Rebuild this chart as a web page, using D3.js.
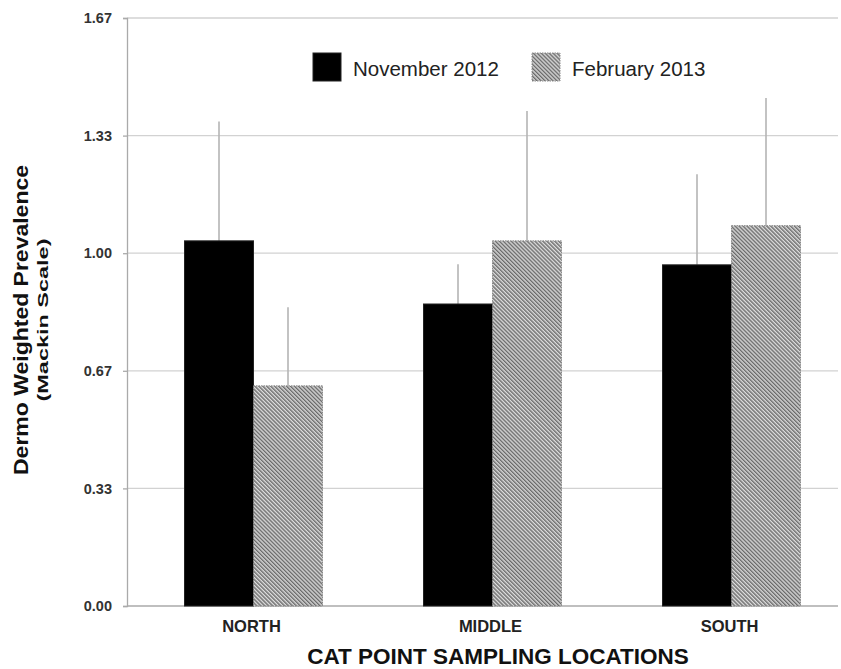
<!DOCTYPE html>
<html><head><meta charset="utf-8">
<script src="https://cdn.jsdelivr.net/npm/d3@7"></script>
<style>body{margin:0;background:#fff}svg{display:block}</style>
</head><body>
<svg id="c" width="841" height="669"></svg>
<script>
const categories = ["NORTH", "MIDDLE", "SOUTH"];
const seriesNames = ["November 2012", "February 2013"];
const nov2012 = [1.035, 0.856, 0.967];
const feb2013 = [0.624, 1.035, 1.078];
const nov2012Err = [0.338, 0.113, 0.257];
const feb2013Err = [0.223, 0.368, 0.362];
const yTicks = [0, 1/3, 2/3, 1, 4/3, 5/3];
const yTickLabels = ["0.00", "0.33", "0.67", "1.00", "1.33", "1.67"];

(function(){
const svg = d3.select("#c");
const FF = "Liberation Sans, Arial, sans-serif";
const axisX = 127, rightX = 838, topY = 18, bottomY = 606;
const y = d3.scaleLinear().domain([0, 5/3]).range([bottomY, topY]);
const x0 = d3.scaleBand().domain(categories).range([134, 851]).paddingInner(0.4226).paddingOuter(0.2113);
const x1 = d3.scaleBand().domain(seriesNames).range([0, x0.bandwidth()]);

const defs = svg.append("defs");
const pat = defs.append("pattern").attr("id","hatch").attr("patternUnits","userSpaceOnUse")
  .attr("width",2.8).attr("height",2.8).attr("patternTransform","rotate(-45)");
pat.append("rect").attr("width",2.8).attr("height",2.8).attr("fill","#dcdcdc");
pat.append("rect").attr("x",0).attr("width",1.4).attr("height",2.8).attr("fill","#6a6a6a");

svg.append("g").selectAll("line").data(yTicks.slice(1)).join("line")
  .attr("x1", axisX).attr("x2", rightX).attr("y1", d=>y(d)).attr("y2", d=>y(d))
  .attr("stroke","#d2d2d2").attr("stroke-width",1.3);

const yAxis = d3.axisLeft(y).tickValues(yTicks).tickFormat((d,i)=>yTickLabels[i]).tickSize(4).tickPadding(11);
const ga = svg.append("g").attr("transform",`translate(${axisX},0)`).call(yAxis);
ga.select(".domain").attr("stroke","#aaa").attr("stroke-width",1.3);
ga.selectAll(".tick line").attr("stroke","#aaa").attr("stroke-width",1.3);
ga.selectAll(".tick text").attr("font-family",FF)
  .attr("font-weight","bold").attr("font-size",14.5).attr("fill","#333");

svg.append("line").attr("x1",axisX).attr("x2",rightX).attr("y1",bottomY).attr("y2",bottomY)
  .attr("stroke","#aaa").attr("stroke-width",1.5);

const data = categories.map((c,i)=>({cat:c, vals:[
  {s:seriesNames[0], v:nov2012[i], e:nov2012Err[i]},
  {s:seriesNames[1], v:feb2013[i], e:feb2013Err[i]}]}));

const g = svg.append("g").selectAll("g").data(data).join("g")
  .attr("transform", d=>`translate(${x0(d.cat)},0)`);
g.selectAll("line.err").data(d=>d.vals).join("line").attr("class","err")
  .attr("x1", d=>x1(d.s)+x1.bandwidth()/2).attr("x2", d=>x1(d.s)+x1.bandwidth()/2)
  .attr("y1", d=>y(d.v)).attr("y2", d=>y(d.v+d.e))
  .attr("stroke","#b4b4b4").attr("stroke-width",1.6);
g.selectAll("rect.bar").data(d=>d.vals).join("rect").attr("class","bar")
  .attr("x", d=>x1(d.s)).attr("width", x1.bandwidth())
  .attr("y", d=>y(d.v)).attr("height", d=>bottomY - y(d.v))
  .attr("fill", d=>d.s===seriesNames[0] ? "#000" : "url(#hatch)")
  .attr("stroke", d=>d.s===seriesNames[0] ? "#222" : "#888")
  .attr("stroke-dasharray", d=>d.s===seriesNames[0] ? null : "1.5,1")
  .attr("stroke-width",1);

svg.append("g").selectAll("text").data(categories).join("text")
  .attr("x", d=>x0(d)+x0.bandwidth()/2 - 2).attr("y", 632)
  .attr("text-anchor","middle").attr("font-family",FF)
  .attr("font-weight","bold").attr("font-size",16.5).attr("fill","#222").text(d=>d);

svg.append("text").attr("x",498).attr("y",664).attr("text-anchor","middle")
  .attr("font-family",FF).attr("font-weight","bold")
  .attr("font-size",22.5).attr("fill","#111").text("CAT POINT SAMPLING LOCATIONS");

svg.append("text").attr("transform","translate(28,320) rotate(-90)")
  .attr("text-anchor","middle").attr("font-family",FF)
  .attr("font-weight","bold").attr("font-size",20).attr("fill","#111")
  .attr("textLength",310).attr("lengthAdjust","spacingAndGlyphs")
  .text("Dermo Weighted Prevalence");
svg.append("text").attr("transform","translate(48,320) rotate(-90)")
  .attr("text-anchor","middle").attr("font-family",FF)
  .attr("font-weight","bold").attr("font-size",14.5).attr("fill","#111")
  .attr("textLength",163).attr("lengthAdjust","spacingAndGlyphs")
  .text("(Mackin Scale)");

const leg = svg.append("g");
const legX = [313, 532];
seriesNames.forEach((s,i)=>{
  leg.append("rect").attr("x",legX[i]).attr("y",53).attr("width",28).attr("height",28)
    .attr("fill", i===0 ? "#000" : "url(#hatch)").attr("stroke", i===0?"#222":"#888")
    .attr("stroke-dasharray", i===0 ? null : "1.5,1");
  leg.append("text").attr("x",legX[i]+40).attr("y",76)
    .attr("font-family",FF).attr("font-size",20.5)
    .attr("fill","#222").text(s);
});
})();
</script>
</body></html>
